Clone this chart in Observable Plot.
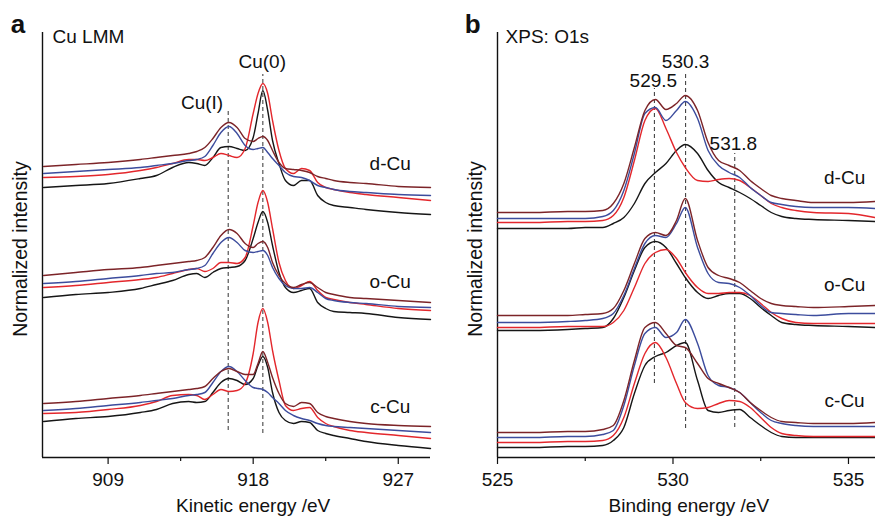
<!DOCTYPE html>
<html><head><meta charset="utf-8">
<script src="https://cdn.jsdelivr.net/npm/d3@7"></script>
<script src="https://cdn.jsdelivr.net/npm/@observablehq/plot@0.6"></script>
<style>
html,body{margin:0;padding:0;background:#fff;}
#wrap{position:relative;width:875px;height:516px;overflow:hidden;background:#fff;}
#pa{position:absolute;left:0;top:0;}
#pb{position:absolute;left:440px;top:0;}
</style></head><body><div id="wrap"><div id="pa"></div><div id="pb"></div></div>
<script>
// ---------- Panel a: Cu LMM (kinetic energy, eV) ----------
const lmmEnergy = [905,907,909,911,912,913,914,914.5,915,915.5,916,916.5,917,917.5,918,918.3,918.6,918.9,919.2,919.6,920,920.5,921,921.5,922,922.5,923,924,925,927,929];
const lmmD_black  = [270,272,274,279,282,290,295,294,292,300,310,311,309,307,320,344,367,347,317,294,277,272,277,277,262,255,252,250,248,245,243];
const lmmD_red    = [280,281,283,287,290,294,298,298,297,300,304,302,300,309,344,364,374,364,337,307,289,284,289,287,275,270,268,265,263,260,257];
const lmmD_blue   = [284,286,288,290,292,294,297,298,301,312,325,331,324,312,308,309,310,305,299,292,285,281,280,277,272,270,268,266,265,263,262];
const lmmD_maroon = [291,293,295,298,300,302,304,306,310,319,330,335,330,319,316,319,321,317,307,295,289,288,287,285,281,279,277,275,274,271,270];
const lmmO_black  = [160,163,165,169,173,177,183,184,180,185,189,190,191,197,219,235,246,235,212,185,170,165,167,169,155,149,146,145,144,140,138];
const lmmO_red    = [170,172,175,178,180,184,188,189,186,189,195,195,194,200,232,255,267,255,229,195,177,169,172,176,167,160,158,155,153,149,147];
const lmmO_blue   = [174,176,179,182,184,185,188,189,192,204,215,220,215,207,205,206,207,202,190,179,172,169,169,170,165,159,157,155,154,151,150];
const lmmO_maroon = [182,185,188,190,192,194,196,197,200,210,222,228,224,214,210,214,216,210,195,182,174,170,173,175,170,165,163,160,159,157,155];
const lmmC_black  = [36,39,41,45,48,54,56,55,56,65,75,79,77,73,79,92,101,90,65,45,37,34,36,35,27,24,22,19,16,12,9];
const lmmC_red    = [44,45,48,52,56,62,63,62,58,63,68,66,67,74,104,135,149,135,107,77,52,47,49,50,40,34,31,27,25,22,19];
const lmmC_blue   = [47,49,52,55,57,59,62,63,65,75,86,91,86,77,70,69,68,65,60,54,47,42,39,37,34,32,31,30,29,27,25];
const lmmC_maroon = [54,56,59,62,64,66,68,69,71,79,86,89,86,83,83,94,106,95,80,64,54,51,55,54,45,41,39,36,34,32,31];
const lmmTicks = [909, 918, 927];
const lmmMinorTicks = [913.5, 922.5];
const lmmPeakNames = ["Cu(I)", "Cu(0)"];
const lmmPeakE = [916.45, 918.6];
const lmmPeakLow = [27, 24];
const lmmPeakHigh = [349, 383];
const lmmPeakLabelE = [914.83, 918.56];
const lmmPeakLabelI = [355, 396];

// ---------- Panel b: XPS O1s (binding energy, eV) ----------
const o1sEnergy = [525,526,527,527.5,528,528.3,528.6,528.9,529.2,529.5,529.8,530.1,530.35,530.7,531,531.3,531.6,531.9,532.2,532.5,532.8,533.1,533.5,534,535,535.75];
const o1sD_black  = [229,229,229,230,230,234,240,254,274,285,294,307,313,304,287,275,270,265,259,252,245,241,239,238,237,236];
const o1sD_red    = [235,235,236,236,237,242,260,297,337,349,329,305,290,277,276,278,279,277,270,262,254,250,247,245,244,240];
const o1sD_blue   = [239,239,239,239,241,247,267,304,344,350,337,347,356,339,307,292,285,280,270,262,255,253,251,250,250,249];
const o1sD_maroon = [245,245,246,246,247,254,274,310,347,358,348,354,362,347,315,297,292,287,277,269,262,259,257,255,255,256];
const o1sO_black  = [127,127,128,129,130,139,160,187,210,216,210,194,180,165,159,162,164,164,159,150,142,135,133,132,131,130];
const o1sO_red    = [130,130,131,131,131,135,147,170,194,205,208,199,185,170,164,164,165,165,162,154,145,139,135,134,134,134];
const o1sO_blue   = [135,135,136,137,139,144,162,189,214,222,220,234,250,210,184,175,174,170,162,152,145,144,143,142,144,144];
const o1sO_maroon = [142,142,142,143,144,149,167,194,219,225,222,237,259,217,190,182,179,175,167,159,154,152,151,150,151,152];
const o1sC_black  = [10,10,11,11,12,17,30,64,92,101,105,112,115,77,47,45,47,48,40,32,25,21,20,20,20,20];
const o1sC_red    = [15,15,16,16,17,22,40,74,104,115,100,74,55,49,50,54,57,56,50,40,30,24,22,21,21,21];
const o1sC_blue   = [20,20,21,21,23,27,52,92,124,130,120,125,138,114,82,72,70,65,55,45,37,34,32,31,31,31];
const o1sC_maroon = [25,25,26,26,28,32,57,97,130,135,124,112,110,94,79,74,70,65,55,47,40,36,35,34,34,35];
const o1sTicks = [525, 530, 535];
const o1sMinorTicks = [527.5, 532.5];
const o1sPeakNames = ["529.5", "530.3", "531.8"];
const o1sPeakE = [529.47, 530.36, 531.76];
const o1sPeakLow = [74, 29, 30];
const o1sPeakHigh = [369, 385, 304];
const o1sPeakLabelE = [529.44, 530.36, 531.72];
const o1sPeakLabelI = [377, 396, 314];

// ---------- shared ----------
const groupNames = ["d-Cu", "o-Cu", "c-Cu"];
const lmmGroupLabelE = 926.5;
const lmmGroupLabelI = [294, 176, 51];
const o1sGroupLabelE = 534.89;
const o1sGroupLabelI = [280, 173, 57];
const seriesNames = ["S1", "S2", "S3", "S4"];
const seriesColors = ["#161616", "#e3272c", "#3c4c9d", "#7c2428"];

const FONT = "'Liberation Sans', Arial, Helvetica, sans-serif";

function buildRows(energy, groups) {
  const out = [];
  groups.forEach(([g, arrs]) => {
    arrs.forEach((vals, si) => {
      vals.forEach((v, i) => out.push({x: energy[i], y: v, series: seriesNames[si], key: g + "|" + seriesNames[si]}));
    });
  });
  return out;
}

function panel(o) {
  const dashes = o.peakE.map((e, i) => ({x: e, y1: o.peakLow[i], y2: o.peakHigh[i]}));
  const peakLabels = o.peakNames.map((t, i) => ({x: o.peakLabelE[i], y: o.peakLabelI[i], t}));
  const groupLabels = groupNames.map((t, i) => ({x: o.groupLabelE, y: o.groupLabelI[i], t}));
  return Plot.plot({
    width: o.width, height: 516,
    marginLeft: o.marginLeft, marginRight: o.marginRight, marginTop: 32, marginBottom: 59,
    style: {fontFamily: FONT, fontSize: "19px", background: "white", overflow: "visible", color: "#111"},
    x: {domain: o.xDomain},
    y: {domain: [0, 425], axis: null},
    color: {domain: seriesNames, range: seriesColors},
    marks: [
      Plot.ruleY([0], {stroke: "#111", strokeWidth: 1.4}),
      Plot.ruleX([o.xDomain[0]], {y1: 0, y2: 425, stroke: "#111", strokeWidth: 1.4}),
      Plot.axisX(o.ticks, {label: null, tickSize: 7, tickPadding: 8, tickFormat: d => String(d), fontSize: 19, stroke: "#111", strokeWidth: 1.2}),
      Plot.axisX(o.minor, {label: null, tickSize: 4, tickFormat: () => "", stroke: "#111", strokeWidth: 1.2}),
      Plot.ruleX(dashes, {x: "x", y1: "y1", y2: "y2", stroke: "#333", strokeWidth: 1, strokeDasharray: "4,3"}),
      Plot.line(o.rows, {x: "x", y: "y", z: "key", stroke: "series", strokeWidth: 1.4, curve: "monotone-x"}),
      Plot.text(peakLabels, {x: "x", y: "y", text: "t", fontSize: 19, fill: "#111"}),
      Plot.text(groupLabels, {x: "x", y: "y", text: "t", fontSize: 19, fill: "#111"}),
      Plot.text([{x: o.titleE, y: 421, t: o.title}], {x: "x", y: "y", text: "t", textAnchor: "start", fontSize: 19, fill: "#111"}),
      Plot.text([{x: o.letterE, y: 433, t: o.letter}], {x: "x", y: "y", text: "t", fontSize: 26, fontWeight: "bold", fill: "#111"}),
      Plot.text([{x: o.xLabelE, y: 0, t: o.xLabel}], {x: "x", y: "y", text: "t", dy: 48, fontSize: 19, fill: "#111"}),
      Plot.text(["Normalized intensity"], {frameAnchor: "left", textAnchor: "middle", rotate: -90, dx: o.yLabelDx, dy: 4, fontSize: 19.5, fill: "#111"})
    ]
  });
}

const lmmRows = buildRows(lmmEnergy, [
  ["d", [lmmD_black, lmmD_red, lmmD_blue, lmmD_maroon]],
  ["o", [lmmO_black, lmmO_red, lmmO_blue, lmmO_maroon]],
  ["c", [lmmC_black, lmmC_red, lmmC_blue, lmmC_maroon]]
]);
const o1sRows = buildRows(o1sEnergy, [
  ["d", [o1sD_black, o1sD_red, o1sD_blue, o1sD_maroon]],
  ["o", [o1sO_black, o1sO_red, o1sO_blue, o1sO_maroon]],
  ["c", [o1sC_black, o1sC_red, o1sC_blue, o1sC_maroon]]
]);

document.getElementById("pa").appendChild(panel({
  width: 440, marginLeft: 42, marginRight: 10, xDomain: [904.93, 929],
  rows: lmmRows, ticks: lmmTicks, minor: lmmMinorTicks,
  peakNames: lmmPeakNames, peakE: lmmPeakE, peakLow: lmmPeakLow, peakHigh: lmmPeakHigh,
  peakLabelE: lmmPeakLabelE, peakLabelI: lmmPeakLabelI,
  groupLabelE: lmmGroupLabelE, groupLabelI: lmmGroupLabelI,
  title: "Cu LMM", titleE: 905.55, letter: "a", letterE: 903.41,
  xLabel: "Kinetic energy /eV", xLabelE: 918, yLabelDx: -22
}));
document.getElementById("pb").appendChild(panel({
  width: 435, marginLeft: 57, marginRight: 0, xDomain: [525, 535.77],
  rows: o1sRows, ticks: o1sTicks, minor: o1sMinorTicks,
  peakNames: o1sPeakNames, peakE: o1sPeakE, peakLow: o1sPeakLow, peakHigh: o1sPeakHigh,
  peakLabelE: o1sPeakLabelE, peakLabelI: o1sPeakLabelI,
  groupLabelE: o1sGroupLabelE, groupLabelI: o1sGroupLabelI,
  title: "XPS: O1s", titleE: 525.23, letter: "b", letterE: 524.29,
  xLabel: "Binding energy /eV", xLabelE: 530.45, yLabelDx: -22
}));
</script></body></html>
